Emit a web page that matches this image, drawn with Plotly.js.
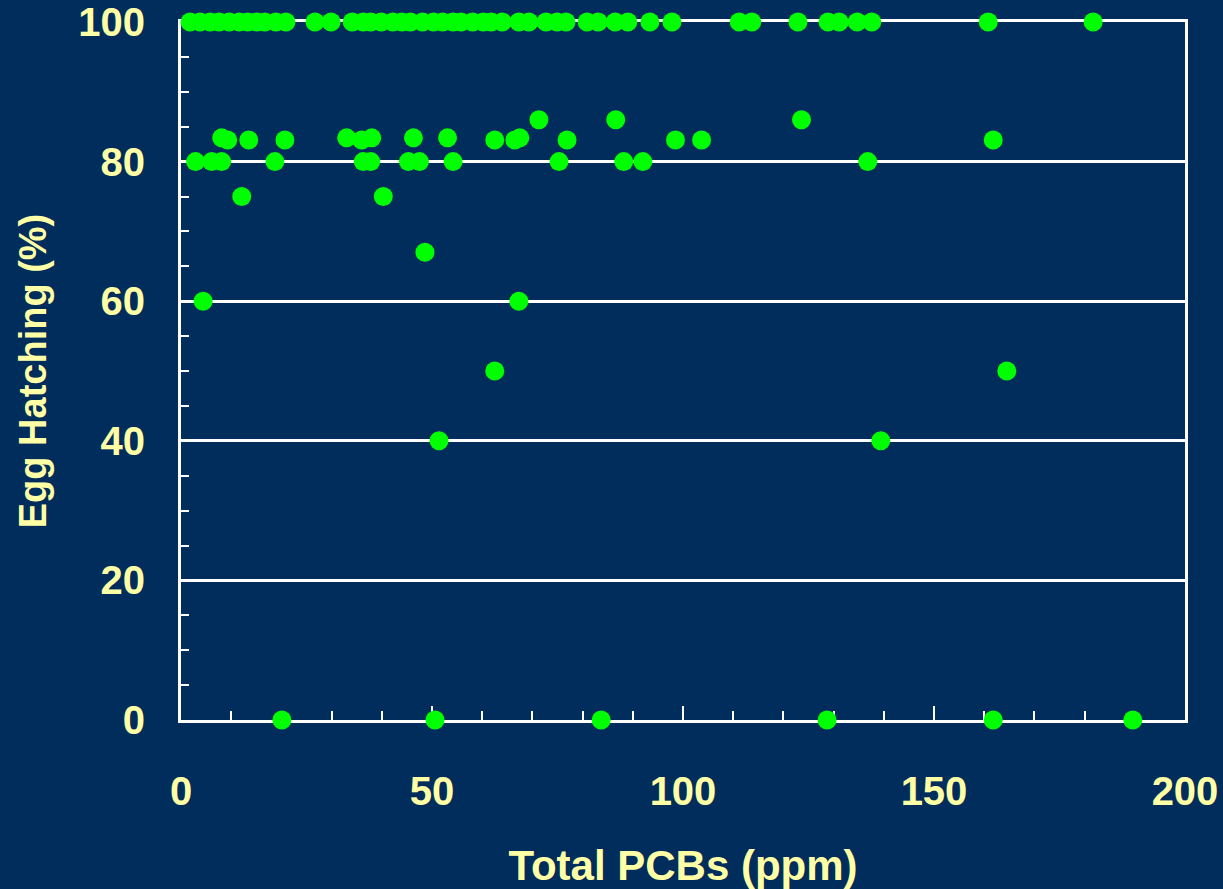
<!DOCTYPE html>
<html>
<head>
<meta charset="utf-8">
<script src="https://cdn.plot.ly/plotly-3.0.1.min.js"></script>
<style>
  html, body { margin: 0; padding: 0; background: #002D5C; }
  #chart { width: 1223px; height: 889px; }
</style>
</head>
<body>
<div id="chart"></div>
<script>
// Total PCBs (ppm) read for each hatching level
var pcbAt100 = [1.8, 3.8, 5.8, 7.6, 9.6, 11.6, 13.3, 15.1, 16.7, 18.9, 20.9, 26.7, 29.9,
  34.1, 36.3, 37.8, 39.9, 42.2, 44.0, 45.7, 48.1, 50.3, 52.1, 54.2, 55.8, 58.1, 60.2,
  61.8, 64.0, 67.3, 69.3, 72.7, 74.9, 76.7, 80.9, 83.1, 86.5, 89.0, 93.4, 97.8, 111.2,
  113.7, 122.9, 128.9, 131.1, 134.7, 137.6, 160.8, 181.7];
var pcbAt86 = [71.3, 86.6, 123.6];
var pcbAt83 = [8.1, 9.3, 13.5, 20.7, 33.0, 36.0, 38.0, 46.3, 53.1, 62.5, 66.5, 67.5,
  76.9, 98.5, 103.7, 161.8];
var hatchAt83 = [83.4, 83.1, 83.1, 83.1, 83.4, 83.1, 83.4, 83.4, 83.4, 83.1, 83.1, 83.4,
  83.1, 83.1, 83.1, 83.1];
var pcbAt80 = [2.9, 6.1, 8.1, 18.7, 36.3, 37.8, 45.3, 47.5, 54.2, 75.3, 88.2, 92.0, 136.8];
var pcbAt75 = [12.1, 40.3];
var pcbAt67 = [48.6];
var pcbAt60 = [4.4, 67.3];
var pcbAt50 = [62.5, 164.5];
var pcbAt40 = [51.4, 139.4];
var pcbAt0 = [20.1, 50.6, 83.7, 128.7, 161.8, 189.6];

var xTickVals = [0, 50, 100, 150, 200];
var xTickText = ["0", "50", "100", "150", "200"];
var yTickVals = [0, 20, 40, 60, 80, 100];
var yTickText = ["0", "20", "40", "60", "80", "100"];

function fill(arr, v) { return arr.map(function () { return v; }); }

var xs = [].concat(pcbAt100, pcbAt86, pcbAt83, pcbAt80, pcbAt75, pcbAt67, pcbAt60, pcbAt50, pcbAt40, pcbAt0);
var ys = [].concat(fill(pcbAt100, 100), fill(pcbAt86, 86), hatchAt83, fill(pcbAt80, 80),
  fill(pcbAt75, 75), fill(pcbAt67, 67), fill(pcbAt60, 60), fill(pcbAt50, 50),
  fill(pcbAt40, 40), fill(pcbAt0, 0));

var labelColor = "#FFFFA6";
var bg = "#002D5C";
var fam = "Liberation Sans, Arial, sans-serif";

var trace = {
  x: xs, y: ys, type: "scatter", mode: "markers",
  cliponaxis: false,
  marker: { color: "#00FF00", size: 19, line: { width: 0 } },
  hoverinfo: "x+y"
};

var layout = {
  width: 1223, height: 889,
  paper_bgcolor: bg, plot_bgcolor: bg,
  margin: { l: 181, r: 38, t: 22, b: 169 },
  showlegend: false,
  font: { family: fam, color: labelColor },
  xaxis: {
    range: [0, 200], fixedrange: true,
    tickvals: xTickVals, ticktext: xTickText,
    ticks: "inside", ticklen: 14, tickwidth: 2, tickcolor: "white",
    minor: { dtick: 10, tick0: 0, ticks: "inside", ticklen: 9, tickwidth: 2, tickcolor: "white", showgrid: false },
    showgrid: false, zeroline: false,
    showline: true, linecolor: "white", linewidth: 3, mirror: true,
    layer: "below traces",
    ticklabelstandoff: 34,
    tickfont: { family: fam, size: 40, weight: "bold", color: labelColor },
    title: { text: "Total PCBs (ppm)", standoff: 40,
      font: { family: fam, size: 42, weight: "bold", color: labelColor } }
  },
  yaxis: {
    range: [0, 100], fixedrange: true,
    tickvals: yTickVals, ticktext: yTickText,
    ticks: "inside", ticklen: 8, tickwidth: 2, tickcolor: "white",
    minor: { dtick: 5, tick0: 0, ticks: "inside", ticklen: 8, tickwidth: 2, tickcolor: "white", showgrid: false },
    showgrid: true, gridcolor: "white", gridwidth: 3,
    zeroline: false,
    showline: true, linecolor: "white", linewidth: 3, mirror: true,
    layer: "below traces",
    ticklabelstandoff: 25,
    tickfont: { family: fam, size: 40, weight: "bold", color: labelColor },
    title: { text: "Egg Hatching (%)", standoff: 20,
      font: { family: fam, size: 38, weight: "bold", color: labelColor } }
  }
};

Plotly.newPlot("chart", [trace], layout, { staticPlot: true, displayModeBar: false });
</script>
</body>
</html>
